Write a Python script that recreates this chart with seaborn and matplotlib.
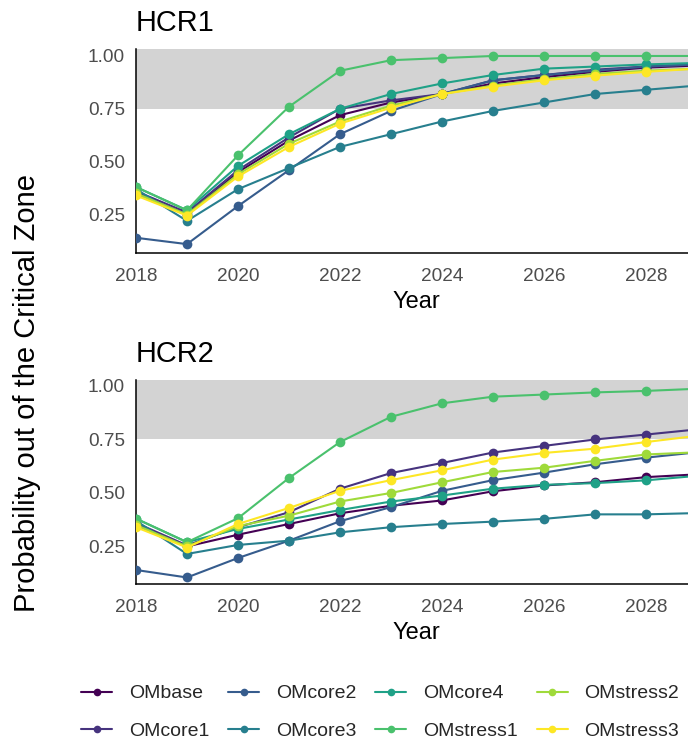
import numpy as np
import pandas as pd
import matplotlib
matplotlib.use("Agg")
import matplotlib.pyplot as plt
from matplotlib.lines import Line2D
import seaborn as sns

years = [2018, 2019, 2020, 2021, 2022, 2023, 2024, 2025, 2026, 2027, 2028, 2029]
scenarios = ["OMbase", "OMcore1", "OMcore2", "OMcore3", "OMcore4",
             "OMstress1", "OMstress2", "OMstress3"]
colors = ["#440154", "#46337E", "#365C8D", "#277F8E", "#1FA187",
          "#4AC16D", "#9FDA3A", "#FDE725"]

# HCR1
hcr1_OMbase    = [0.35, 0.25, 0.45, 0.60, 0.72, 0.78, 0.82, 0.87, 0.90, 0.925, 0.945, 0.955]
hcr1_OMcore1   = [0.36, 0.26, 0.46, 0.615, 0.75, 0.79, 0.82, 0.885, 0.91, 0.935, 0.95, 0.96]
hcr1_OMcore2   = [0.14, 0.11, 0.29, 0.46, 0.63, 0.74, 0.82, 0.885, 0.91, 0.93, 0.95, 0.96]
hcr1_OMcore3   = [0.37, 0.22, 0.37, 0.47, 0.57, 0.63, 0.69, 0.74, 0.78, 0.82, 0.84, 0.86]
hcr1_OMcore4   = [0.38, 0.27, 0.48, 0.63, 0.75, 0.82, 0.87, 0.91, 0.94, 0.95, 0.96, 0.967]
hcr1_OMstress1 = [0.38, 0.27, 0.53, 0.76, 0.93, 0.98, 0.99, 1.00, 1.00, 1.00, 1.00, 1.00]
hcr1_OMstress2 = [0.35, 0.25, 0.44, 0.585, 0.69, 0.765, 0.82, 0.86, 0.89, 0.915, 0.93, 0.94]
hcr1_OMstress3 = [0.34, 0.245, 0.43, 0.57, 0.68, 0.755, 0.82, 0.855, 0.885, 0.907, 0.925, 0.94]

# HCR2
hcr2_OMbase    = [0.35, 0.25, 0.305, 0.355, 0.405, 0.44, 0.465, 0.508, 0.535, 0.55, 0.574, 0.587]
hcr2_OMcore1   = [0.36, 0.255, 0.34, 0.41, 0.52, 0.593, 0.64, 0.689, 0.72, 0.75, 0.773, 0.797]
hcr2_OMcore2   = [0.14, 0.105, 0.196, 0.277, 0.368, 0.434, 0.51, 0.56, 0.595, 0.634, 0.665, 0.69]
hcr2_OMcore3   = [0.37, 0.215, 0.257, 0.277, 0.316, 0.34, 0.355, 0.366, 0.379, 0.40, 0.40, 0.406]
hcr2_OMcore4   = [0.38, 0.27, 0.332, 0.376, 0.42, 0.46, 0.488, 0.52, 0.538, 0.546, 0.559, 0.58]
hcr2_OMstress1 = [0.38, 0.27, 0.382, 0.57, 0.738, 0.856, 0.919, 0.95, 0.96, 0.97, 0.977, 0.987]
hcr2_OMstress2 = [0.35, 0.25, 0.345, 0.394, 0.46, 0.50, 0.55, 0.598, 0.618, 0.65, 0.68, 0.69]
hcr2_OMstress3 = [0.34, 0.245, 0.355, 0.43, 0.51, 0.56, 0.606, 0.656, 0.687, 0.707, 0.738, 0.767]

panels = {
    "HCR1": [hcr1_OMbase, hcr1_OMcore1, hcr1_OMcore2, hcr1_OMcore3,
             hcr1_OMcore4, hcr1_OMstress1, hcr1_OMstress2, hcr1_OMstress3],
    "HCR2": [hcr2_OMbase, hcr2_OMcore1, hcr2_OMcore2, hcr2_OMcore3,
             hcr2_OMcore4, hcr2_OMstress1, hcr2_OMstress2, hcr2_OMstress3],
}

x_ticks = [2018, 2020, 2022, 2024, 2026, 2028]
y_ticks = [0.25, 0.50, 0.75, 1.00]
y_tick_labels = ["0.25", "0.50", "0.75", "1.00"]

sns.set_style("white")
plt.rcParams["font.family"] = ["Liberation Sans", "DejaVu Sans"]

W, H = 688, 742
fig = plt.figure(figsize=(W / 100, H / 100), dpi=100)

palette = dict(zip(scenarios, colors))
axes_px = {"HCR1": (49, 253, (0.068, 1.033)), "HCR2": (380, 584, (0.0745, 1.028))}
left_px, right_px = 136, 697

for name, series in panels.items():
    top, bot, ylim = axes_px[name]
    ax = fig.add_axes([left_px / W, (H - bot) / H, (right_px - left_px) / W, (bot - top) / H])
    rows = []
    for sc, vals in zip(scenarios, series):
        for yr, v in zip(years, vals):
            rows.append({"Year": yr, "Prob": v, "OM": sc})
    df = pd.DataFrame(rows)
    ax.axhspan(0.75, 2.0, color="#D3D3D3", lw=0, zorder=0)
    sns.lineplot(data=df, x="Year", y="Prob", hue="OM", hue_order=scenarios,
                 palette=palette, marker="o", markersize=7, markeredgewidth=0,
                 linewidth=1.5, ax=ax, legend=False, zorder=3)
    ax.set_xlim(2018, 2029)
    ax.set_ylim(*ylim)
    ax.set_xticks(x_ticks)
    ax.set_xticklabels([str(t) for t in x_ticks])
    ax.set_yticks(y_ticks)
    ax.set_yticklabels(y_tick_labels)
    ax.tick_params(axis="both", length=4, width=1.1, color="black",
                   labelsize=13.7, labelcolor="#4D4D4D")
    ax.tick_params(axis="x", pad=7)
    ax.tick_params(axis="y", pad=4)
    for s in ["top", "right"]:
        ax.spines[s].set_visible(False)
    for s in ["left", "bottom"]:
        ax.spines[s].set_color("black")
        ax.spines[s].set_linewidth(1.1)
    ax.set_xlabel("Year", fontsize=17, color="black", labelpad=4)
    ax.set_ylabel("")
    ax.set_title(name, loc="left", fontsize=20.8, pad=13, color="black")
    ax.set_facecolor("white")
    ax.grid(False)

fig.text(27 / W, 1 - 393 / H, "Probability out of the Critical Zone",
         rotation=90, ha="center", va="center", fontsize=21, color="black")

handles = [Line2D([0], [0], color=c, lw=1.5, marker="o", markersize=5.5,
                  markeredgewidth=0) for c in colors]
fig.legend(handles, scenarios, loc="center left", ncol=4,
           bbox_to_anchor=(81 / W, 1 - 712.2 / H), frameon=False,
           fontsize=14, handlelength=1.6, handletextpad=0.85,
           columnspacing=0.98, labelspacing=1.0, borderpad=0, borderaxespad=0)

fig.savefig("out.png", dpi=100)
